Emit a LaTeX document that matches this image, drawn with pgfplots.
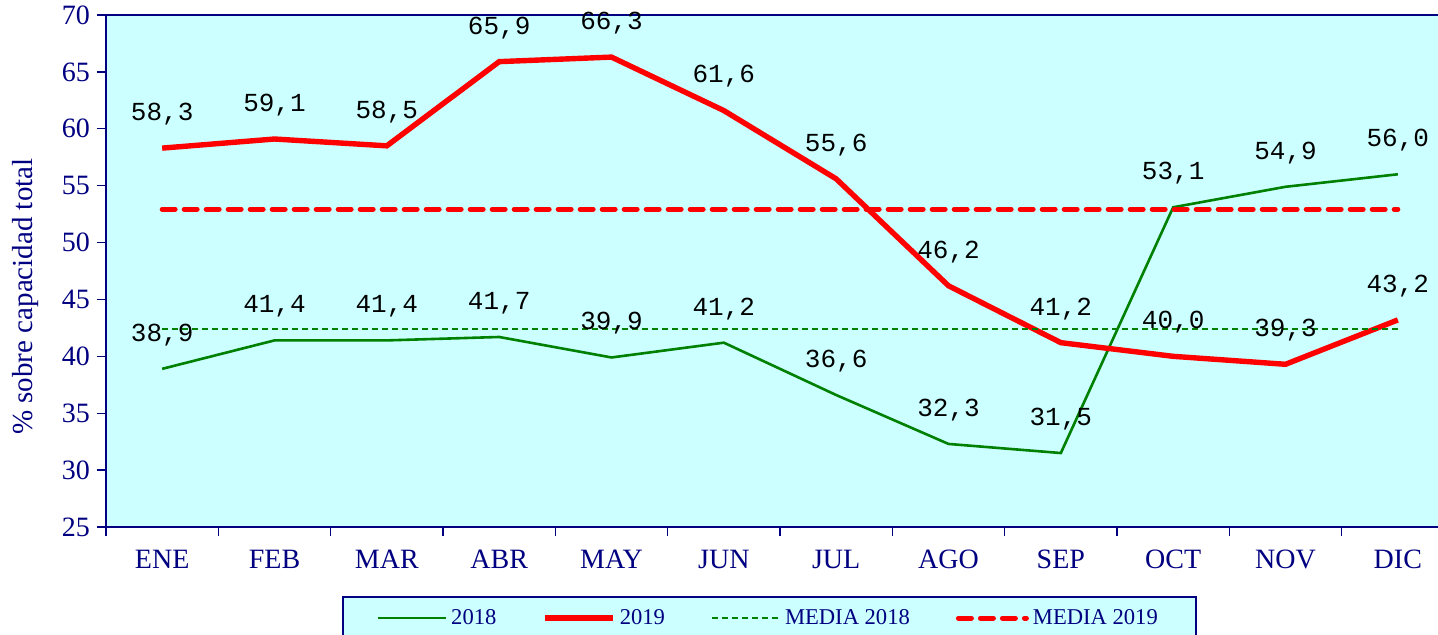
\documentclass[border=0pt]{standalone}
\usepackage{fontspec}
\setmainfont{Liberation Serif}
\setmonofont{Liberation Mono}
\usepackage{pgfplots}
\pgfplotsset{compat=1.18}
\definecolor{bgcyan}{HTML}{CCFFFF}
\definecolor{navy}{HTML}{000080}
\definecolor{dgreen}{HTML}{008000}

\begin{document}
\begin{tikzpicture}
\begin{axis}[
  name=ax,
  scale only axis, width=674pt, height=256pt,
  xmin=-0.5, xmax=11.5, ymin=25, ymax=70,
  axis background/.style={fill=bgcyan},
  axis line style={navy, line width=1pt},
  xtick={0,...,11},
  xticklabels={ENE,FEB,MAR,ABR,MAY,JUN,JUL,AGO,SEP,OCT,NOV,DIC},
  minor xtick={-0.5,0.5,...,11.5},
  major x tick style={draw=none},
  ytick={25,30,...,70},
  tick align=outside, tick pos=left,
  major tick length=4.5pt, minor tick length=4.5pt,
  tick style={navy, line width=0.7pt},
  ticklabel style={text=navy, font=\fontsize{14}{14}\selectfont},
  xticklabel style={yshift=-3.5pt},
  /pgf/number format/assume math mode=true,
  ylabel={\% sobre capacidad total},
  ylabel style={at={(axis description cs:-0.060,0.45)}, anchor=center, text=navy, font=\fontsize{14.5}{14.5}\selectfont},
  every node near coord/.append style={anchor=center, yshift=17pt, text=black,
    font=\ttfamily\fontsize{13}{13}\selectfont,
    /pgf/number format/.cd, fixed, fixed zerofill, precision=1, use comma, assume math mode=true},
  legend style={at={(0.492,-0.135)}, anchor=north, legend columns=4,
    fill=bgcyan, draw=navy, line width=1pt, text=navy,
    font=\fontsize{11.3}{13}\selectfont, inner xsep=17pt, inner ysep=4pt,
    /tikz/every even column/.append style={column sep=21pt}},
  legend image code/.code={\draw[#1] (0pt,0pt) -- (34pt,0pt);},
]
\addplot[dgreen, line width=1.3pt, nodes near coords] coordinates {
  (0,38.9) (1,41.4) (2,41.4) (3,41.7) (4,39.9) (5,41.2)
  (6,36.6) (7,32.3) (8,31.5) (9,53.1) (10,54.9) (11,56.0)};
\addplot[red, line width=2.7pt, nodes near coords] coordinates {
  (0,58.3) (1,59.1) (2,58.5) (3,65.9) (4,66.3) (5,61.6)
  (6,55.6) (7,46.2) (8,41.2) (9,40.0) (10,39.3) (11,43.2)};
\addplot[dgreen, line width=1pt, dash pattern=on 3pt off 2pt] coordinates {
  (0,42.41) (11,42.41)};
\addplot[red, line width=2.5pt, line cap=round, dash pattern=on 6.5pt off 4.5pt] coordinates {
  (0,52.93) (11,52.93)};
\legend{2018,2019,MEDIA 2018,MEDIA 2019}
\end{axis}
\pgfresetboundingbox
\useasboundingbox ([xshift=-53pt,yshift=-54pt]ax.south west) rectangle ([xshift=-8pt,yshift=7.5pt]ax.north east);
\end{tikzpicture}
\end{document}
